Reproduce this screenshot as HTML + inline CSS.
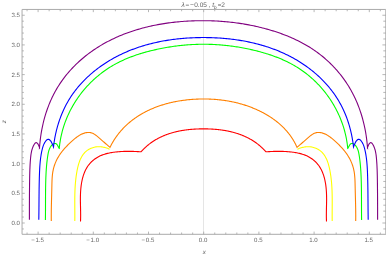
<!DOCTYPE html>
<html><head><meta charset="utf-8"><title>plot</title>
<style>
html,body{margin:0;padding:0;background:#fff;}
body{width:386px;height:256px;overflow:hidden;font-family:"Liberation Sans",sans-serif;}
svg{display:block;}
text{font-family:"Liberation Sans",sans-serif;fill:#646464;text-rendering:geometricPrecision;}
.t{filter:grayscale(1);}
.c{fill:none;stroke-width:1.10;stroke-linejoin:miter;stroke-miterlimit:6;stroke-linecap:butt;}
</style></head><body>
<svg width="386" height="256" viewBox="0 0 386 256">
<rect x="0" y="0" width="386" height="256" fill="#ffffff"/>
<line x1="203.50" y1="9.45" x2="203.50" y2="234.30" stroke="#dedede" stroke-width="0.8"/>
<path class="c" stroke="#ff0000" d="M80.50,221.50 L80.54,220.52 L80.57,219.55 L80.60,218.57 L80.62,217.60 L80.63,216.64 L80.64,215.67 L80.64,214.71 L80.63,213.75 L80.62,212.79 L80.61,211.83 L80.59,210.87 L80.58,209.92 L80.56,208.96 L80.54,208.01 L80.52,207.06 L80.50,206.11 L80.48,205.15 L80.46,204.20 L80.44,203.25 L80.42,202.30 L80.41,201.35 L80.40,200.39 L80.40,199.44 L80.40,198.48 L80.41,197.53 L80.42,196.57 L80.44,195.61 L80.47,194.65 L80.50,193.69 L80.54,192.72 L80.59,191.75 L80.66,190.78 L80.73,189.81 L80.81,188.83 L80.90,187.86 L81.01,186.88 L81.13,185.91 L81.26,184.93 L81.40,183.96 L81.56,182.99 L81.73,182.02 L81.92,181.06 L82.12,180.11 L82.34,179.15 L82.57,178.21 L82.83,177.27 L83.10,176.34 L83.38,175.42 L83.69,174.50 L84.02,173.60 L84.36,172.71 L84.73,171.83 L85.11,170.96 L85.52,170.10 L85.95,169.26 L86.40,168.43 L86.88,167.62 L87.38,166.83 L87.90,166.04 L88.44,165.28 L89.02,164.54 L89.61,163.81 L90.24,163.10 L90.88,162.42 L91.55,161.75 L92.25,161.10 L92.96,160.48 L93.70,159.87 L94.45,159.29 L95.22,158.73 L96.02,158.20 L96.82,157.68 L97.65,157.19 L98.49,156.73 L99.34,156.29 L100.20,155.87 L101.08,155.48 L101.97,155.12 L102.87,154.77 L103.77,154.45 L104.69,154.16 L105.62,153.88 L106.55,153.62 L107.49,153.39 L108.43,153.17 L109.38,152.97 L110.34,152.78 L111.30,152.61 L112.26,152.45 L113.22,152.31 L114.19,152.18 L115.16,152.06 L116.12,151.96 L117.09,151.86 L118.06,151.77 L119.02,151.69 L119.99,151.62 L120.95,151.56 L121.91,151.51 L122.88,151.46 L123.84,151.42 L124.80,151.39 L125.76,151.37 L126.73,151.36 L127.69,151.35 L128.65,151.34 L129.61,151.35 L130.57,151.36 L131.52,151.37 L132.48,151.40 L133.44,151.42 L134.40,151.45 L135.36,151.49 L136.31,151.53 L137.27,151.58 L138.23,151.63 L139.19,151.68 L140.14,151.74 L141.10,151.80 L141.41,151.44 L141.73,151.09 L142.05,150.74 L142.37,150.39 L142.69,150.05 L143.02,149.71 L143.34,149.37 L143.67,149.04 L144.00,148.71 L144.34,148.38 L144.67,148.06 L145.01,147.74 L145.35,147.42 L145.69,147.11 L146.03,146.80 L146.37,146.49 L146.72,146.19 L147.07,145.89 L147.42,145.59 L147.77,145.29 L148.12,145.00 L148.48,144.72 L148.83,144.43 L149.19,144.15 L149.55,143.87 L149.91,143.59 L150.28,143.32 L150.64,143.05 L151.01,142.79 L151.38,142.52 L151.75,142.26 L152.12,142.01 L152.50,141.75 L152.87,141.50 L153.25,141.25 L153.63,141.01 L154.01,140.76 L154.39,140.52 L154.77,140.29 L155.16,140.05 L155.54,139.82 L155.93,139.59 L156.32,139.37 L156.71,139.15 L157.10,138.93 L157.50,138.71 L157.89,138.50 L158.29,138.29 L158.69,138.08 L159.09,137.87 L159.49,137.67 L159.89,137.47 L160.30,137.27 L160.70,137.08 L161.11,136.89 L161.51,136.70 L161.92,136.51 L162.33,136.33 L162.75,136.14 L163.16,135.97 L163.57,135.79 L163.99,135.62 L164.40,135.45 L164.82,135.28 L165.24,135.11 L165.66,134.95 L166.08,134.79 L166.50,134.63 L166.93,134.47 L167.35,134.32 L167.78,134.17 L168.21,134.02 L168.63,133.87 L169.06,133.73 L169.49,133.59 L169.92,133.45 L170.36,133.32 L170.79,133.18 L171.22,133.05 L171.66,132.92 L172.10,132.79 L172.53,132.67 L172.97,132.55 L173.41,132.43 L173.85,132.31 L174.29,132.19 L174.73,132.08 L175.17,131.97 L175.62,131.86 L176.06,131.75 L176.51,131.65 L176.95,131.55 L177.40,131.45 L177.85,131.35 L178.30,131.25 L178.74,131.16 L179.19,131.07 L179.64,130.98 L180.10,130.89 L180.55,130.81 L181.00,130.72 L181.45,130.64 L181.91,130.56 L182.36,130.48 L182.82,130.41 L183.27,130.34 L183.73,130.26 L184.19,130.20 L184.64,130.13 L185.10,130.06 L185.56,130.00 L186.02,129.94 L186.48,129.88 L186.94,129.82 L187.40,129.76 L187.86,129.71 L188.33,129.66 L188.79,129.61 L189.25,129.56 L189.71,129.51 L190.18,129.46 L190.64,129.42 L191.10,129.38 L191.57,129.34 L192.03,129.30 L192.50,129.26 L192.97,129.23 L193.43,129.20 L193.90,129.16 L194.36,129.13 L194.83,129.11 L195.30,129.08 L195.77,129.05 L196.23,129.03 L196.70,129.01 L197.17,128.99 L197.64,128.97 L198.11,128.95 L198.57,128.94 L199.04,128.92 L199.51,128.91 L199.98,128.90 L200.45,128.89 L200.92,128.88 L201.39,128.87 L201.86,128.87 L202.33,128.86 L202.80,128.86 L203.27,128.86 L203.73,128.86 L204.20,128.86 L204.67,128.86 L205.14,128.87 L205.61,128.87 L206.08,128.88 L206.55,128.89 L207.02,128.90 L207.49,128.91 L207.96,128.92 L208.43,128.94 L208.89,128.95 L209.36,128.97 L209.83,128.99 L210.30,129.01 L210.77,129.03 L211.23,129.05 L211.70,129.08 L212.17,129.11 L212.64,129.13 L213.10,129.16 L213.57,129.20 L214.03,129.23 L214.50,129.26 L214.97,129.30 L215.43,129.34 L215.90,129.38 L216.36,129.42 L216.82,129.46 L217.29,129.51 L217.75,129.56 L218.21,129.61 L218.67,129.66 L219.14,129.71 L219.60,129.76 L220.06,129.82 L220.52,129.88 L220.98,129.94 L221.44,130.00 L221.90,130.06 L222.36,130.13 L222.81,130.20 L223.27,130.26 L223.73,130.34 L224.18,130.41 L224.64,130.48 L225.09,130.56 L225.55,130.64 L226.00,130.72 L226.45,130.81 L226.90,130.89 L227.36,130.98 L227.81,131.07 L228.26,131.16 L228.70,131.25 L229.15,131.35 L229.60,131.45 L230.05,131.55 L230.49,131.65 L230.94,131.75 L231.38,131.86 L231.83,131.97 L232.27,132.08 L232.71,132.19 L233.15,132.31 L233.59,132.43 L234.03,132.55 L234.47,132.67 L234.90,132.79 L235.34,132.92 L235.78,133.05 L236.21,133.18 L236.64,133.32 L237.08,133.45 L237.51,133.59 L237.94,133.73 L238.37,133.87 L238.79,134.02 L239.22,134.17 L239.65,134.32 L240.07,134.47 L240.50,134.63 L240.92,134.79 L241.34,134.95 L241.76,135.11 L242.18,135.28 L242.60,135.45 L243.01,135.62 L243.43,135.79 L243.84,135.97 L244.25,136.14 L244.67,136.33 L245.08,136.51 L245.49,136.70 L245.89,136.89 L246.30,137.08 L246.70,137.27 L247.11,137.47 L247.51,137.67 L247.91,137.87 L248.31,138.08 L248.71,138.29 L249.11,138.50 L249.50,138.71 L249.90,138.93 L250.29,139.15 L250.68,139.37 L251.07,139.59 L251.46,139.82 L251.84,140.05 L252.23,140.29 L252.61,140.52 L252.99,140.76 L253.37,141.01 L253.75,141.25 L254.13,141.50 L254.50,141.75 L254.88,142.01 L255.25,142.26 L255.62,142.52 L255.99,142.79 L256.36,143.05 L256.72,143.32 L257.09,143.59 L257.45,143.87 L257.81,144.15 L258.17,144.43 L258.52,144.72 L258.88,145.00 L259.23,145.29 L259.58,145.59 L259.93,145.89 L260.28,146.19 L260.63,146.49 L260.97,146.80 L261.31,147.11 L261.65,147.42 L261.99,147.74 L262.33,148.06 L262.66,148.38 L263.00,148.71 L263.33,149.04 L263.66,149.37 L263.98,149.71 L264.31,150.05 L264.63,150.39 L264.95,150.74 L265.27,151.09 L265.59,151.44 L265.90,151.80 L266.86,151.74 L267.81,151.68 L268.77,151.63 L269.73,151.58 L270.69,151.53 L271.64,151.49 L272.60,151.45 L273.56,151.42 L274.52,151.40 L275.48,151.37 L276.43,151.36 L277.39,151.35 L278.35,151.34 L279.31,151.35 L280.27,151.36 L281.24,151.37 L282.20,151.39 L283.16,151.42 L284.12,151.46 L285.09,151.51 L286.05,151.56 L287.01,151.62 L287.98,151.69 L288.94,151.77 L289.91,151.86 L290.88,151.96 L291.84,152.06 L292.81,152.18 L293.78,152.31 L294.74,152.45 L295.70,152.61 L296.66,152.78 L297.62,152.97 L298.57,153.17 L299.51,153.39 L300.45,153.62 L301.38,153.88 L302.31,154.16 L303.23,154.45 L304.13,154.77 L305.03,155.12 L305.92,155.48 L306.80,155.87 L307.66,156.29 L308.51,156.73 L309.35,157.19 L310.18,157.68 L310.98,158.20 L311.78,158.73 L312.55,159.29 L313.30,159.87 L314.04,160.48 L314.75,161.10 L315.45,161.75 L316.12,162.42 L316.76,163.10 L317.39,163.81 L317.98,164.54 L318.56,165.28 L319.10,166.04 L319.62,166.83 L320.12,167.62 L320.60,168.43 L321.05,169.26 L321.48,170.10 L321.89,170.96 L322.27,171.83 L322.64,172.71 L322.98,173.60 L323.31,174.50 L323.62,175.42 L323.90,176.34 L324.17,177.27 L324.43,178.21 L324.66,179.15 L324.88,180.11 L325.08,181.06 L325.27,182.02 L325.44,182.99 L325.60,183.96 L325.74,184.93 L325.87,185.91 L325.99,186.88 L326.10,187.86 L326.19,188.83 L326.27,189.81 L326.34,190.78 L326.41,191.75 L326.46,192.72 L326.50,193.69 L326.53,194.65 L326.56,195.61 L326.58,196.57 L326.59,197.53 L326.60,198.48 L326.60,199.44 L326.60,200.39 L326.59,201.35 L326.58,202.30 L326.56,203.25 L326.54,204.20 L326.52,205.15 L326.50,206.11 L326.48,207.06 L326.46,208.01 L326.44,208.96 L326.42,209.92 L326.41,210.87 L326.39,211.83 L326.38,212.79 L326.37,213.75 L326.36,214.71 L326.36,215.67 L326.37,216.64 L326.38,217.60 L326.40,218.57 L326.43,219.55 L326.46,220.52 L326.50,221.50"/>
<path class="c" stroke="#ffff00" d="M74.80,221.00 L74.81,220.17 L74.82,219.34 L74.83,218.52 L74.83,217.69 L74.83,216.87 L74.84,216.04 L74.84,215.22 L74.83,214.40 L74.83,213.58 L74.83,212.76 L74.83,211.94 L74.82,211.12 L74.82,210.30 L74.81,209.48 L74.81,208.67 L74.80,207.85 L74.80,207.04 L74.79,206.22 L74.79,205.41 L74.79,204.60 L74.78,203.78 L74.78,202.97 L74.78,202.16 L74.78,201.35 L74.78,200.54 L74.78,199.72 L74.79,198.91 L74.79,198.10 L74.80,197.29 L74.81,196.48 L74.83,195.67 L74.84,194.86 L74.86,194.05 L74.88,193.24 L74.90,192.43 L74.93,191.62 L74.95,190.81 L74.99,190.00 L75.02,189.19 L75.06,188.38 L75.10,187.57 L75.15,186.76 L75.20,185.95 L75.26,185.14 L75.31,184.33 L75.38,183.52 L75.45,182.70 L75.52,181.89 L75.60,181.08 L75.68,180.26 L75.77,179.45 L75.86,178.63 L75.96,177.82 L76.06,177.00 L76.17,176.18 L76.29,175.36 L76.41,174.55 L76.54,173.73 L76.67,172.91 L76.81,172.09 L76.96,171.26 L77.12,170.44 L77.28,169.62 L77.45,168.80 L77.63,167.98 L77.82,167.16 L78.01,166.34 L78.22,165.53 L78.44,164.73 L78.68,163.93 L78.92,163.14 L79.18,162.36 L79.46,161.58 L79.75,160.82 L80.05,160.06 L80.37,159.32 L80.71,158.59 L81.07,157.88 L81.44,157.17 L81.83,156.48 L82.25,155.81 L82.68,155.16 L83.13,154.52 L83.61,153.90 L84.11,153.30 L84.63,152.72 L85.17,152.16 L85.74,151.63 L86.34,151.11 L86.96,150.62 L87.60,150.16 L88.27,149.72 L88.97,149.31 L89.69,148.92 L90.42,148.56 L91.18,148.23 L91.95,147.93 L92.74,147.67 L93.53,147.43 L94.34,147.22 L95.16,147.05 L95.98,146.91 L96.81,146.80 L97.64,146.73 L98.47,146.70 L99.30,146.70 L100.13,146.74 L100.96,146.81 L101.78,146.91 L102.60,147.04 L103.41,147.20 L104.22,147.38 L105.01,147.58 L105.80,147.81 L106.59,148.06 L107.36,148.32 L108.12,148.60 L108.86,148.90 L109.60,149.20"/>
<path class="c" stroke="#ffff00" d="M297.40,149.20 L298.14,148.90 L298.88,148.60 L299.64,148.32 L300.41,148.06 L301.20,147.81 L301.99,147.58 L302.78,147.38 L303.59,147.20 L304.40,147.04 L305.22,146.91 L306.04,146.81 L306.87,146.74 L307.70,146.70 L308.53,146.70 L309.36,146.73 L310.19,146.80 L311.02,146.91 L311.84,147.05 L312.66,147.22 L313.47,147.43 L314.26,147.67 L315.05,147.93 L315.82,148.23 L316.58,148.56 L317.31,148.92 L318.03,149.31 L318.73,149.72 L319.40,150.16 L320.04,150.62 L320.66,151.11 L321.26,151.63 L321.83,152.16 L322.37,152.72 L322.89,153.30 L323.39,153.90 L323.87,154.52 L324.32,155.16 L324.75,155.81 L325.17,156.48 L325.56,157.17 L325.93,157.88 L326.29,158.59 L326.63,159.32 L326.95,160.06 L327.25,160.82 L327.54,161.58 L327.82,162.36 L328.08,163.14 L328.32,163.93 L328.56,164.73 L328.78,165.53 L328.99,166.34 L329.18,167.16 L329.37,167.98 L329.55,168.80 L329.72,169.62 L329.88,170.44 L330.04,171.26 L330.19,172.09 L330.33,172.91 L330.46,173.73 L330.59,174.55 L330.71,175.36 L330.83,176.18 L330.94,177.00 L331.04,177.82 L331.14,178.63 L331.23,179.45 L331.32,180.26 L331.40,181.08 L331.48,181.89 L331.55,182.70 L331.62,183.52 L331.69,184.33 L331.74,185.14 L331.80,185.95 L331.85,186.76 L331.90,187.57 L331.94,188.38 L331.98,189.19 L332.01,190.00 L332.05,190.81 L332.07,191.62 L332.10,192.43 L332.12,193.24 L332.14,194.05 L332.16,194.86 L332.17,195.67 L332.19,196.48 L332.20,197.29 L332.21,198.10 L332.21,198.91 L332.22,199.72 L332.22,200.54 L332.22,201.35 L332.22,202.16 L332.22,202.97 L332.22,203.78 L332.21,204.60 L332.21,205.41 L332.21,206.22 L332.20,207.04 L332.20,207.85 L332.19,208.67 L332.19,209.48 L332.18,210.30 L332.18,211.12 L332.17,211.94 L332.17,212.76 L332.17,213.58 L332.17,214.40 L332.16,215.22 L332.16,216.04 L332.17,216.87 L332.17,217.69 L332.17,218.52 L332.18,219.34 L332.19,220.17 L332.20,221.00"/>
<path class="c" stroke="#ff8000" d="M51.30,221.00 L51.29,219.89 L51.28,218.77 L51.27,217.66 L51.27,216.55 L51.27,215.44 L51.27,214.33 L51.28,213.22 L51.29,212.11 L51.30,211.00 L51.31,209.89 L51.33,208.78 L51.35,207.67 L51.37,206.57 L51.39,205.46 L51.41,204.35 L51.44,203.24 L51.47,202.14 L51.49,201.03 L51.52,199.92 L51.55,198.81 L51.58,197.71 L51.61,196.60 L51.64,195.49 L51.67,194.38 L51.69,193.27 L51.72,192.16 L51.75,191.05 L51.78,189.94 L51.80,188.82 L51.83,187.71 L51.85,186.60 L51.88,185.48 L51.90,184.37 L51.93,183.26 L51.96,182.14 L52.00,181.03 L52.04,179.92 L52.10,178.81 L52.17,177.70 L52.26,176.59 L52.36,175.49 L52.48,174.39 L52.62,173.29 L52.78,172.20 L52.96,171.11 L53.18,170.03 L53.41,168.95 L53.68,167.88 L53.98,166.82 L54.31,165.76 L54.67,164.71 L55.06,163.66 L55.48,162.63 L55.92,161.61 L56.38,160.59 L56.88,159.59 L57.39,158.60 L57.93,157.63 L58.49,156.67 L59.07,155.72 L59.67,154.79 L60.29,153.88 L60.93,152.98 L61.58,152.10 L62.25,151.24 L62.94,150.38 L63.64,149.54 L64.36,148.72 L65.09,147.90 L65.84,147.09 L66.60,146.29 L67.37,145.50 L68.15,144.72 L68.95,143.94 L69.76,143.17 L70.57,142.40 L71.40,141.63 L72.24,140.87 L73.09,140.12 L73.94,139.37 L74.82,138.65 L75.70,137.94 L76.60,137.26 L77.51,136.60 L78.44,135.98 L79.38,135.39 L80.34,134.84 L81.32,134.33 L82.31,133.87 L83.33,133.47 L84.36,133.12 L85.41,132.83 L86.47,132.61 L87.54,132.48 L88.59,132.44 L89.64,132.49 L90.68,132.66 L91.69,132.94 L92.68,133.32 L93.64,133.81 L94.59,134.37 L95.52,135.00 L96.43,135.68 L97.33,136.39 L98.21,137.13 L99.08,137.87 L99.93,138.61 L100.78,139.35 L101.62,140.09 L102.46,140.82 L103.29,141.55 L104.12,142.28 L104.94,143.01 L105.77,143.73 L106.61,144.45 L107.44,145.17 L108.29,145.88 L109.14,146.59 L110.00,147.30 L110.35,146.60 L110.70,145.90 L111.06,145.21 L111.43,144.53 L111.80,143.85 L112.18,143.18 L112.56,142.51 L112.95,141.85 L113.34,141.20 L113.74,140.55 L114.14,139.91 L114.55,139.27 L114.97,138.64 L115.39,138.01 L115.82,137.39 L116.25,136.77 L116.68,136.16 L117.12,135.56 L117.57,134.96 L118.02,134.37 L118.48,133.78 L118.94,133.20 L119.41,132.62 L119.88,132.05 L120.35,131.49 L120.83,130.93 L121.32,130.38 L121.81,129.83 L122.31,129.28 L122.81,128.75 L123.31,128.21 L123.82,127.69 L124.33,127.16 L124.85,126.65 L125.37,126.14 L125.90,125.63 L126.43,125.13 L126.97,124.64 L127.51,124.15 L128.05,123.66 L128.60,123.18 L129.15,122.71 L129.71,122.24 L130.27,121.78 L130.83,121.32 L131.40,120.86 L131.97,120.42 L132.55,119.97 L133.13,119.54 L133.71,119.10 L134.30,118.68 L134.89,118.25 L135.49,117.84 L136.08,117.42 L136.69,117.02 L137.29,116.61 L137.90,116.22 L138.51,115.82 L139.13,115.44 L139.75,115.05 L140.37,114.68 L141.00,114.30 L141.63,113.94 L142.26,113.57 L142.89,113.21 L143.53,112.86 L144.18,112.51 L144.82,112.17 L145.47,111.83 L146.12,111.50 L146.77,111.17 L147.43,110.84 L148.09,110.53 L148.75,110.21 L149.42,109.90 L150.08,109.60 L150.75,109.29 L151.43,109.00 L152.10,108.71 L152.78,108.42 L153.46,108.14 L154.14,107.86 L154.83,107.59 L155.52,107.32 L156.21,107.06 L156.90,106.80 L157.59,106.54 L158.29,106.29 L158.99,106.05 L159.69,105.81 L160.39,105.57 L161.10,105.34 L161.81,105.11 L162.52,104.89 L163.23,104.67 L163.94,104.45 L164.65,104.24 L165.37,104.04 L166.09,103.84 L166.81,103.64 L167.53,103.45 L168.25,103.26 L168.98,103.08 L169.70,102.90 L170.43,102.72 L171.16,102.55 L171.89,102.38 L172.62,102.22 L173.36,102.06 L174.09,101.91 L174.83,101.76 L175.56,101.61 L176.30,101.47 L177.04,101.33 L177.78,101.20 L178.52,101.07 L179.26,100.94 L180.01,100.82 L180.75,100.70 L181.50,100.59 L182.24,100.48 L182.99,100.37 L183.74,100.27 L184.48,100.18 L185.23,100.08 L185.98,99.99 L186.73,99.91 L187.48,99.82 L188.23,99.75 L188.98,99.67 L189.73,99.60 L190.49,99.54 L191.24,99.47 L191.99,99.42 L192.74,99.36 L193.50,99.31 L194.25,99.26 L195.00,99.22 L195.75,99.18 L196.51,99.14 L197.26,99.11 L198.01,99.08 L198.77,99.06 L199.52,99.04 L200.27,99.02 L201.02,99.00 L201.78,98.99 L202.53,98.99 L203.28,98.98 L204.03,98.98 L204.78,98.99 L205.53,98.99 L206.28,99.01 L207.03,99.02 L207.78,99.04 L208.52,99.06 L209.27,99.09 L210.02,99.12 L210.76,99.15 L211.51,99.18 L212.25,99.23 L213.00,99.27 L213.74,99.32 L214.49,99.37 L215.23,99.42 L215.97,99.48 L216.71,99.55 L217.45,99.61 L218.19,99.68 L218.93,99.76 L219.67,99.84 L220.41,99.92 L221.14,100.00 L221.88,100.09 L222.61,100.19 L223.35,100.29 L224.08,100.39 L224.81,100.49 L225.54,100.60 L226.28,100.72 L227.00,100.83 L227.73,100.96 L228.46,101.08 L229.19,101.21 L229.91,101.35 L230.64,101.48 L231.36,101.63 L232.09,101.77 L232.81,101.92 L233.53,102.08 L234.25,102.24 L234.97,102.40 L235.68,102.57 L236.40,102.74 L237.12,102.91 L237.83,103.09 L238.54,103.28 L239.26,103.47 L239.97,103.66 L240.68,103.86 L241.38,104.06 L242.09,104.26 L242.80,104.47 L243.50,104.69 L244.20,104.90 L244.91,105.13 L245.61,105.36 L246.30,105.59 L247.00,105.82 L247.70,106.06 L248.39,106.31 L249.09,106.56 L249.78,106.81 L250.47,107.07 L251.16,107.33 L251.85,107.60 L252.53,107.87 L253.22,108.15 L253.90,108.43 L254.58,108.72 L255.26,109.01 L255.94,109.30 L256.62,109.60 L257.29,109.91 L257.97,110.22 L258.64,110.53 L259.31,110.85 L259.98,111.17 L260.64,111.50 L261.30,111.84 L261.97,112.17 L262.62,112.52 L263.28,112.86 L263.93,113.22 L264.58,113.57 L265.23,113.93 L265.88,114.30 L266.52,114.67 L267.16,115.05 L267.79,115.43 L268.43,115.82 L269.06,116.21 L269.68,116.60 L270.31,117.01 L270.93,117.41 L271.54,117.82 L272.15,118.24 L272.76,118.66 L273.37,119.09 L273.97,119.52 L274.57,119.96 L275.16,120.40 L275.75,120.85 L276.33,121.30 L276.91,121.76 L277.49,122.22 L278.06,122.69 L278.63,123.16 L279.19,123.64 L279.75,124.12 L280.30,124.61 L280.85,125.11 L281.40,125.61 L281.93,126.11 L282.47,126.62 L283.00,127.14 L283.52,127.66 L284.04,128.19 L284.55,128.72 L285.06,129.26 L285.56,129.80 L286.05,130.35 L286.54,130.90 L287.03,131.46 L287.51,132.03 L287.98,132.60 L288.44,133.18 L288.90,133.76 L289.36,134.35 L289.80,134.94 L290.25,135.54 L290.68,136.14 L291.11,136.75 L291.53,137.37 L291.94,137.99 L292.35,138.62 L292.75,139.25 L293.15,139.89 L293.53,140.53 L293.91,141.18 L294.29,141.84 L294.65,142.50 L295.01,143.17 L295.36,143.84 L295.70,144.52 L296.04,145.21 L296.37,145.90 L296.69,146.60 L297.00,147.30 L297.86,146.59 L298.71,145.88 L299.56,145.17 L300.39,144.45 L301.23,143.73 L302.06,143.01 L302.88,142.28 L303.71,141.55 L304.54,140.82 L305.38,140.09 L306.22,139.35 L307.07,138.61 L307.92,137.87 L308.79,137.13 L309.67,136.39 L310.57,135.68 L311.48,135.00 L312.41,134.37 L313.36,133.81 L314.32,133.32 L315.31,132.94 L316.32,132.66 L317.36,132.49 L318.41,132.44 L319.46,132.48 L320.53,132.61 L321.59,132.83 L322.64,133.12 L323.67,133.47 L324.69,133.87 L325.68,134.33 L326.66,134.84 L327.62,135.39 L328.56,135.98 L329.49,136.60 L330.40,137.26 L331.30,137.94 L332.18,138.65 L333.06,139.37 L333.91,140.12 L334.76,140.87 L335.60,141.63 L336.43,142.40 L337.24,143.17 L338.05,143.94 L338.85,144.72 L339.63,145.50 L340.40,146.29 L341.16,147.09 L341.91,147.90 L342.64,148.72 L343.36,149.54 L344.06,150.38 L344.75,151.24 L345.42,152.10 L346.07,152.98 L346.71,153.88 L347.33,154.79 L347.93,155.72 L348.51,156.67 L349.07,157.63 L349.61,158.60 L350.12,159.59 L350.62,160.59 L351.08,161.61 L351.52,162.63 L351.94,163.66 L352.33,164.71 L352.69,165.76 L353.02,166.82 L353.32,167.88 L353.59,168.95 L353.82,170.03 L354.04,171.11 L354.22,172.20 L354.38,173.29 L354.52,174.39 L354.64,175.49 L354.74,176.59 L354.83,177.70 L354.90,178.81 L354.96,179.92 L355.00,181.03 L355.04,182.14 L355.07,183.26 L355.10,184.37 L355.12,185.48 L355.15,186.60 L355.17,187.71 L355.20,188.82 L355.22,189.94 L355.25,191.05 L355.28,192.16 L355.31,193.27 L355.33,194.38 L355.36,195.49 L355.39,196.60 L355.42,197.71 L355.45,198.81 L355.48,199.92 L355.51,201.03 L355.53,202.14 L355.56,203.24 L355.59,204.35 L355.61,205.46 L355.63,206.57 L355.65,207.67 L355.67,208.78 L355.69,209.89 L355.70,211.00 L355.71,212.11 L355.72,213.22 L355.73,214.33 L355.73,215.44 L355.73,216.55 L355.73,217.66 L355.72,218.77 L355.71,219.89 L355.70,221.00"/>
<path class="c" stroke="#00ff00" d="M45.40,220.00 L45.41,219.28 L45.42,218.55 L45.43,217.83 L45.44,217.11 L45.45,216.38 L45.45,215.66 L45.46,214.93 L45.47,214.21 L45.47,213.48 L45.48,212.75 L45.48,212.03 L45.48,211.30 L45.49,210.57 L45.49,209.84 L45.49,209.12 L45.49,208.39 L45.50,207.66 L45.50,206.93 L45.50,206.20 L45.50,205.47 L45.50,204.74 L45.50,204.01 L45.51,203.28 L45.51,202.55 L45.51,201.82 L45.51,201.09 L45.51,200.36 L45.51,199.64 L45.52,198.91 L45.52,198.18 L45.52,197.45 L45.52,196.72 L45.53,195.99 L45.53,195.26 L45.54,194.53 L45.54,193.80 L45.55,193.07 L45.55,192.34 L45.56,191.61 L45.57,190.88 L45.57,190.15 L45.58,189.42 L45.59,188.70 L45.60,187.97 L45.61,187.24 L45.63,186.51 L45.64,185.79 L45.65,185.06 L45.67,184.33 L45.68,183.61 L45.70,182.88 L45.72,182.15 L45.74,181.43 L45.76,180.71 L45.78,179.98 L45.80,179.26 L45.83,178.53 L45.85,177.81 L45.88,177.09 L45.91,176.37 L45.94,175.65 L45.97,174.93 L46.01,174.21 L46.04,173.49 L46.08,172.77 L46.12,172.05 L46.16,171.33 L46.21,170.60 L46.25,169.88 L46.30,169.16 L46.35,168.44 L46.41,167.72 L46.46,167.00 L46.52,166.28 L46.59,165.55 L46.65,164.83 L46.72,164.10 L46.79,163.38 L46.87,162.65 L46.95,161.92 L47.03,161.19 L47.11,160.46 L47.20,159.73 L47.30,159.00 L47.39,158.26 L47.50,157.53 L47.60,156.79 L47.71,156.05 L47.83,155.31 L47.95,154.57 L48.08,153.84 L48.23,153.10 L48.38,152.38 L48.56,151.66 L48.75,150.96 L48.96,150.26 L49.19,149.59 L49.45,148.92 L49.73,148.28 L50.04,147.65 L50.38,147.05 L50.76,146.47 L51.16,145.92 L51.61,145.39 L52.09,144.89 L52.61,144.43 L53.16,144.03 L53.74,143.72 L54.33,143.51 L54.94,143.44 L55.55,143.53 L56.15,143.79 L56.75,144.26 L57.33,144.96 L57.89,145.90 L58.39,146.93 L58.81,147.85 L59.11,148.44 L59.25,148.50 L59.38,147.17 L59.52,145.83 L59.68,144.51 L59.86,143.18 L60.06,141.87 L60.27,140.55 L60.50,139.24 L60.75,137.94 L61.01,136.63 L61.29,135.34 L61.59,134.05 L61.90,132.76 L62.23,131.48 L62.58,130.20 L62.94,128.93 L63.32,127.67 L63.71,126.41 L64.12,125.16 L64.54,123.91 L64.98,122.67 L65.44,121.43 L65.91,120.20 L66.40,118.98 L66.90,117.76 L67.41,116.56 L67.94,115.35 L68.49,114.16 L69.05,112.97 L69.62,111.79 L70.21,110.62 L70.81,109.45 L71.43,108.29 L72.06,107.14 L72.70,106.00 L73.36,104.86 L74.03,103.74 L74.71,102.62 L75.41,101.51 L76.12,100.41 L76.85,99.32 L77.58,98.23 L78.33,97.16 L79.09,96.09 L79.87,95.04 L80.65,93.99 L81.45,92.95 L82.26,91.92 L83.09,90.91 L83.92,89.90 L84.77,88.90 L85.63,87.91 L86.50,86.93 L87.38,85.97 L88.27,85.01 L89.17,84.06 L90.09,83.13 L91.01,82.20 L91.95,81.29 L92.90,80.39 L93.85,79.49 L94.82,78.61 L95.80,77.75 L96.79,76.89 L97.79,76.05 L98.80,75.21 L99.81,74.39 L100.84,73.58 L101.88,72.79 L102.93,72.00 L103.98,71.23 L105.05,70.47 L106.12,69.73 L107.21,69.00 L108.30,68.28 L109.40,67.57 L110.51,66.88 L111.63,66.20 L112.75,65.53 L113.89,64.88 L115.03,64.24 L116.18,63.62 L117.34,63.00 L118.50,62.41 L119.67,61.82 L120.85,61.25 L122.04,60.68 L123.23,60.13 L124.43,59.60 L125.63,59.07 L126.85,58.56 L128.06,58.06 L129.28,57.57 L130.51,57.09 L131.74,56.62 L132.98,56.16 L134.22,55.72 L135.47,55.28 L136.72,54.85 L137.98,54.44 L139.24,54.03 L140.50,53.64 L141.77,53.25 L143.04,52.88 L144.31,52.51 L145.59,52.15 L146.87,51.80 L148.15,51.46 L149.43,51.13 L150.72,50.81 L152.00,50.49 L153.29,50.19 L154.58,49.89 L155.88,49.60 L157.17,49.31 L158.46,49.04 L159.76,48.77 L161.06,48.51 L162.35,48.26 L163.65,48.01 L164.95,47.77 L166.25,47.54 L167.55,47.32 L168.85,47.10 L170.15,46.89 L171.45,46.69 L172.76,46.50 L174.06,46.32 L175.36,46.14 L176.67,45.97 L177.97,45.81 L179.28,45.66 L180.59,45.51 L181.89,45.37 L183.20,45.24 L184.51,45.12 L185.82,45.01 L187.12,44.90 L188.43,44.80 L189.74,44.71 L191.05,44.63 L192.36,44.56 L193.67,44.49 L194.98,44.43 L196.29,44.38 L197.60,44.34 L198.91,44.31 L200.22,44.28 L201.54,44.26 L202.85,44.25 L204.16,44.25 L205.47,44.26 L206.78,44.28 L208.09,44.30 L209.40,44.33 L210.71,44.37 L212.02,44.42 L213.33,44.48 L214.65,44.54 L215.96,44.61 L217.27,44.70 L218.57,44.78 L219.88,44.88 L221.19,44.99 L222.50,45.10 L223.81,45.22 L225.12,45.35 L226.42,45.49 L227.73,45.63 L229.04,45.79 L230.34,45.95 L231.65,46.12 L232.95,46.29 L234.25,46.48 L235.56,46.67 L236.86,46.87 L238.16,47.08 L239.46,47.30 L240.76,47.52 L242.06,47.75 L243.35,47.99 L244.65,48.24 L245.95,48.50 L247.24,48.76 L248.53,49.03 L249.83,49.31 L251.12,49.60 L252.41,49.89 L253.70,50.19 L254.98,50.50 L256.27,50.82 L257.55,51.15 L258.84,51.48 L260.12,51.82 L261.39,52.18 L262.67,52.54 L263.94,52.91 L265.21,53.28 L266.48,53.67 L267.74,54.07 L269.00,54.47 L270.26,54.89 L271.51,55.32 L272.75,55.75 L274.00,56.20 L275.24,56.66 L276.47,57.13 L277.70,57.60 L278.92,58.09 L280.14,58.59 L281.35,59.11 L282.56,59.63 L283.76,60.17 L284.95,60.71 L286.14,61.27 L287.32,61.84 L288.49,62.43 L289.66,63.02 L290.82,63.63 L291.97,64.25 L293.12,64.89 L294.25,65.54 L295.38,66.20 L296.50,66.87 L297.61,67.56 L298.71,68.26 L299.81,68.98 L300.89,69.71 L301.97,70.45 L303.03,71.20 L304.09,71.97 L305.14,72.76 L306.18,73.55 L307.21,74.36 L308.22,75.18 L309.23,76.01 L310.23,76.85 L311.22,77.71 L312.20,78.58 L313.17,79.46 L314.12,80.35 L315.07,81.25 L316.00,82.16 L316.93,83.09 L317.84,84.03 L318.75,84.97 L319.64,85.93 L320.52,86.90 L321.39,87.88 L322.25,88.87 L323.09,89.87 L323.92,90.88 L324.75,91.90 L325.56,92.93 L326.35,93.97 L327.14,95.02 L327.91,96.08 L328.67,97.15 L329.42,98.22 L330.16,99.31 L330.88,100.41 L331.59,101.51 L332.28,102.62 L332.97,103.74 L333.64,104.87 L334.29,106.01 L334.93,107.15 L335.56,108.31 L336.18,109.47 L336.78,110.63 L337.37,111.81 L337.94,112.99 L338.50,114.18 L339.04,115.38 L339.57,116.58 L340.09,117.79 L340.59,119.01 L341.07,120.23 L341.54,121.46 L342.00,122.70 L342.44,123.94 L342.86,125.19 L343.27,126.44 L343.67,127.70 L344.04,128.97 L344.41,130.24 L344.75,131.51 L345.08,132.79 L345.40,134.08 L345.69,135.37 L345.98,136.66 L346.24,137.96 L346.49,139.27 L346.72,140.57 L346.93,141.89 L347.13,143.20 L347.31,144.52 L347.48,145.84 L347.62,147.17 L347.75,148.50 L347.89,148.44 L348.19,147.85 L348.61,146.93 L349.11,145.90 L349.67,144.96 L350.25,144.26 L350.85,143.79 L351.45,143.53 L352.06,143.44 L352.67,143.51 L353.26,143.72 L353.84,144.03 L354.39,144.43 L354.91,144.89 L355.39,145.39 L355.84,145.92 L356.24,146.47 L356.62,147.05 L356.96,147.65 L357.27,148.28 L357.55,148.92 L357.81,149.59 L358.04,150.26 L358.25,150.96 L358.44,151.66 L358.62,152.38 L358.77,153.10 L358.92,153.84 L359.05,154.57 L359.17,155.31 L359.29,156.05 L359.40,156.79 L359.50,157.53 L359.61,158.26 L359.70,159.00 L359.80,159.73 L359.89,160.46 L359.97,161.19 L360.05,161.92 L360.13,162.65 L360.21,163.38 L360.28,164.10 L360.35,164.83 L360.41,165.55 L360.48,166.28 L360.54,167.00 L360.59,167.72 L360.65,168.44 L360.70,169.16 L360.75,169.88 L360.79,170.60 L360.84,171.33 L360.88,172.05 L360.92,172.77 L360.96,173.49 L360.99,174.21 L361.03,174.93 L361.06,175.65 L361.09,176.37 L361.12,177.09 L361.15,177.81 L361.17,178.53 L361.20,179.26 L361.22,179.98 L361.24,180.71 L361.26,181.43 L361.28,182.15 L361.30,182.88 L361.32,183.61 L361.33,184.33 L361.35,185.06 L361.36,185.79 L361.37,186.51 L361.39,187.24 L361.40,187.97 L361.41,188.70 L361.42,189.42 L361.43,190.15 L361.43,190.88 L361.44,191.61 L361.45,192.34 L361.45,193.07 L361.46,193.80 L361.46,194.53 L361.47,195.26 L361.47,195.99 L361.48,196.72 L361.48,197.45 L361.48,198.18 L361.48,198.91 L361.49,199.64 L361.49,200.36 L361.49,201.09 L361.49,201.82 L361.49,202.55 L361.49,203.28 L361.50,204.01 L361.50,204.74 L361.50,205.47 L361.50,206.20 L361.50,206.93 L361.50,207.66 L361.51,208.39 L361.51,209.12 L361.51,209.84 L361.51,210.57 L361.52,211.30 L361.52,212.03 L361.52,212.75 L361.53,213.48 L361.53,214.21 L361.54,214.93 L361.55,215.66 L361.55,216.38 L361.56,217.11 L361.57,217.83 L361.58,218.55 L361.59,219.28 L361.60,220.00"/>
<path class="c" stroke="#0000ff" d="M38.80,219.80 L38.81,219.02 L38.83,218.23 L38.84,217.45 L38.85,216.67 L38.86,215.88 L38.87,215.10 L38.88,214.32 L38.89,213.53 L38.90,212.75 L38.91,211.97 L38.92,211.18 L38.93,210.40 L38.93,209.62 L38.94,208.84 L38.95,208.05 L38.95,207.27 L38.96,206.49 L38.97,205.71 L38.97,204.93 L38.98,204.14 L38.98,203.36 L38.99,202.58 L39.00,201.80 L39.00,201.02 L39.01,200.23 L39.01,199.45 L39.02,198.67 L39.02,197.89 L39.03,197.11 L39.04,196.33 L39.04,195.54 L39.05,194.76 L39.06,193.98 L39.07,193.20 L39.07,192.42 L39.08,191.63 L39.09,190.85 L39.10,190.07 L39.11,189.29 L39.12,188.51 L39.13,187.72 L39.15,186.94 L39.16,186.16 L39.17,185.38 L39.19,184.60 L39.20,183.81 L39.22,183.03 L39.23,182.25 L39.25,181.47 L39.27,180.68 L39.29,179.90 L39.31,179.12 L39.33,178.33 L39.35,177.55 L39.37,176.77 L39.40,175.98 L39.42,175.20 L39.45,174.42 L39.48,173.63 L39.51,172.85 L39.54,172.07 L39.57,171.28 L39.61,170.50 L39.64,169.71 L39.68,168.93 L39.73,168.15 L39.77,167.36 L39.82,166.58 L39.87,165.80 L39.93,165.02 L39.99,164.24 L40.05,163.46 L40.12,162.68 L40.19,161.90 L40.27,161.12 L40.35,160.35 L40.44,159.57 L40.53,158.80 L40.63,158.02 L40.73,157.25 L40.84,156.48 L40.96,155.71 L41.08,154.94 L41.21,154.18 L41.35,153.41 L41.49,152.65 L41.64,151.89 L41.80,151.13 L41.97,150.37 L42.15,149.61 L42.33,148.86 L42.53,148.11 L42.74,147.36 L42.97,146.61 L43.22,145.86 L43.51,145.12 L43.82,144.37 L44.16,143.63 L44.54,142.89 L44.96,142.18 L45.41,141.49 L45.89,140.84 L46.39,140.26 L46.92,139.78 L47.47,139.44 L48.03,139.29 L48.61,139.35 L49.19,139.60 L49.76,140.02 L50.31,140.56 L50.82,141.20 L51.29,141.90 L51.70,142.64 L52.06,143.40 L52.39,144.16 L52.69,144.92 L52.96,145.65 L53.23,146.35 L53.50,147.00 L53.66,145.63 L53.83,144.26 L54.02,142.90 L54.23,141.53 L54.44,140.17 L54.68,138.81 L54.92,137.45 L55.19,136.10 L55.46,134.75 L55.75,133.40 L56.06,132.06 L56.38,130.72 L56.71,129.38 L57.06,128.05 L57.43,126.72 L57.81,125.40 L58.20,124.08 L58.61,122.76 L59.04,121.46 L59.48,120.15 L59.94,118.86 L60.41,117.57 L60.89,116.28 L61.40,115.01 L61.91,113.74 L62.45,112.47 L63.00,111.22 L63.56,109.97 L64.14,108.73 L64.74,107.50 L65.35,106.27 L65.98,105.06 L66.62,103.85 L67.28,102.65 L67.96,101.46 L68.65,100.28 L69.36,99.11 L70.08,97.95 L70.82,96.81 L71.58,95.67 L72.35,94.54 L73.14,93.42 L73.94,92.31 L74.76,91.21 L75.59,90.12 L76.44,89.05 L77.30,87.98 L78.17,86.93 L79.06,85.88 L79.96,84.85 L80.88,83.82 L81.81,82.81 L82.75,81.81 L83.70,80.82 L84.66,79.84 L85.64,78.87 L86.63,77.92 L87.63,76.97 L88.64,76.04 L89.66,75.12 L90.69,74.21 L91.73,73.31 L92.78,72.42 L93.84,71.54 L94.91,70.68 L95.98,69.83 L97.07,68.99 L98.17,68.16 L99.27,67.34 L100.38,66.54 L101.50,65.75 L102.62,64.97 L103.76,64.20 L104.90,63.44 L106.04,62.70 L107.20,61.97 L108.36,61.25 L109.52,60.54 L110.69,59.85 L111.87,59.17 L113.05,58.50 L114.24,57.84 L115.44,57.20 L116.64,56.56 L117.84,55.94 L119.05,55.33 L120.27,54.73 L121.49,54.14 L122.72,53.57 L123.95,53.00 L125.19,52.45 L126.43,51.91 L127.68,51.38 L128.93,50.86 L130.19,50.35 L131.45,49.85 L132.72,49.37 L133.99,48.89 L135.26,48.43 L136.54,47.97 L137.83,47.53 L139.12,47.10 L140.41,46.68 L141.70,46.27 L143.00,45.87 L144.31,45.47 L145.61,45.09 L146.93,44.73 L148.24,44.37 L149.56,44.02 L150.88,43.68 L152.20,43.35 L153.53,43.03 L154.86,42.72 L156.20,42.42 L157.54,42.13 L158.88,41.85 L160.22,41.58 L161.56,41.31 L162.91,41.06 L164.26,40.82 L165.62,40.59 L166.97,40.36 L168.33,40.15 L169.69,39.94 L171.05,39.75 L172.42,39.56 L173.78,39.38 L175.15,39.21 L176.52,39.05 L177.89,38.89 L179.27,38.75 L180.64,38.62 L182.02,38.49 L183.40,38.37 L184.78,38.26 L186.16,38.16 L187.54,38.06 L188.92,37.98 L190.30,37.90 L191.69,37.83 L193.07,37.77 L194.46,37.72 L195.85,37.67 L197.23,37.64 L198.62,37.61 L200.01,37.58 L201.40,37.57 L202.78,37.56 L204.17,37.56 L205.56,37.57 L206.95,37.58 L208.34,37.61 L209.73,37.64 L211.11,37.67 L212.50,37.72 L213.89,37.77 L215.28,37.84 L216.66,37.90 L218.05,37.98 L219.43,38.07 L220.81,38.16 L222.20,38.26 L223.58,38.37 L224.96,38.49 L226.33,38.62 L227.71,38.76 L229.09,38.90 L230.46,39.05 L231.83,39.21 L233.20,39.38 L234.57,39.56 L235.94,39.75 L237.30,39.95 L238.67,40.15 L240.03,40.37 L241.38,40.59 L242.74,40.83 L244.09,41.07 L245.44,41.32 L246.79,41.58 L248.14,41.85 L249.48,42.13 L250.82,42.42 L252.16,42.72 L253.49,43.03 L254.82,43.35 L256.15,43.68 L257.47,44.02 L258.79,44.37 L260.11,44.73 L261.42,45.10 L262.73,45.48 L264.03,45.87 L265.34,46.27 L266.63,46.68 L267.93,47.10 L269.22,47.54 L270.50,47.98 L271.78,48.43 L273.06,48.90 L274.33,49.37 L275.59,49.86 L276.86,50.35 L278.11,50.86 L279.37,51.38 L280.61,51.91 L281.86,52.45 L283.09,53.00 L284.33,53.57 L285.55,54.14 L286.77,54.73 L287.99,55.33 L289.20,55.94 L290.40,56.56 L291.60,57.19 L292.79,57.84 L293.98,58.49 L295.16,59.16 L296.33,59.84 L297.50,60.54 L298.66,61.24 L299.82,61.96 L300.97,62.69 L302.11,63.43 L303.25,64.19 L304.37,64.95 L305.50,65.73 L306.61,66.52 L307.72,67.33 L308.82,68.14 L309.91,68.97 L310.99,69.81 L312.07,70.67 L313.13,71.53 L314.19,72.41 L315.24,73.30 L316.27,74.20 L317.30,75.11 L318.32,76.03 L319.33,76.97 L320.33,77.91 L321.31,78.87 L322.29,79.84 L323.25,80.82 L324.20,81.81 L325.14,82.81 L326.07,83.83 L326.98,84.85 L327.89,85.89 L328.78,86.93 L329.65,87.99 L330.52,89.06 L331.37,90.13 L332.20,91.22 L333.02,92.32 L333.83,93.43 L334.62,94.55 L335.39,95.68 L336.16,96.82 L336.90,97.96 L337.63,99.12 L338.34,100.29 L339.04,101.47 L339.72,102.66 L340.38,103.86 L341.03,105.06 L341.66,106.28 L342.28,107.50 L342.88,108.73 L343.46,109.97 L344.03,111.22 L344.58,112.47 L345.12,113.74 L345.64,115.01 L346.14,116.28 L346.63,117.57 L347.10,118.86 L347.56,120.15 L348.00,121.45 L348.43,122.76 L348.84,124.07 L349.23,125.39 L349.61,126.71 L349.97,128.04 L350.32,129.37 L350.66,130.71 L350.98,132.05 L351.28,133.40 L351.57,134.74 L351.84,136.10 L352.10,137.45 L352.35,138.81 L352.57,140.17 L352.79,141.53 L352.99,142.90 L353.17,144.26 L353.34,145.63 L353.50,147.00 L353.77,146.35 L354.04,145.65 L354.31,144.92 L354.61,144.16 L354.94,143.40 L355.30,142.64 L355.71,141.90 L356.18,141.20 L356.69,140.56 L357.24,140.02 L357.81,139.60 L358.39,139.35 L358.97,139.29 L359.53,139.44 L360.08,139.78 L360.61,140.26 L361.11,140.84 L361.59,141.49 L362.04,142.18 L362.46,142.89 L362.84,143.63 L363.18,144.37 L363.49,145.12 L363.78,145.86 L364.03,146.61 L364.26,147.36 L364.47,148.11 L364.67,148.86 L364.85,149.61 L365.03,150.37 L365.20,151.13 L365.36,151.89 L365.51,152.65 L365.65,153.41 L365.79,154.18 L365.92,154.94 L366.04,155.71 L366.16,156.48 L366.27,157.25 L366.37,158.02 L366.47,158.80 L366.56,159.57 L366.65,160.35 L366.73,161.12 L366.81,161.90 L366.88,162.68 L366.95,163.46 L367.01,164.24 L367.07,165.02 L367.13,165.80 L367.18,166.58 L367.23,167.36 L367.27,168.15 L367.32,168.93 L367.36,169.71 L367.39,170.50 L367.43,171.28 L367.46,172.07 L367.49,172.85 L367.52,173.63 L367.55,174.42 L367.58,175.20 L367.60,175.98 L367.63,176.77 L367.65,177.55 L367.67,178.33 L367.69,179.12 L367.71,179.90 L367.73,180.68 L367.75,181.47 L367.77,182.25 L367.78,183.03 L367.80,183.81 L367.81,184.60 L367.83,185.38 L367.84,186.16 L367.85,186.94 L367.87,187.72 L367.88,188.51 L367.89,189.29 L367.90,190.07 L367.91,190.85 L367.92,191.63 L367.93,192.42 L367.93,193.20 L367.94,193.98 L367.95,194.76 L367.96,195.54 L367.96,196.33 L367.97,197.11 L367.98,197.89 L367.98,198.67 L367.99,199.45 L367.99,200.23 L368.00,201.02 L368.00,201.80 L368.01,202.58 L368.02,203.36 L368.02,204.14 L368.03,204.93 L368.03,205.71 L368.04,206.49 L368.05,207.27 L368.05,208.05 L368.06,208.84 L368.07,209.62 L368.07,210.40 L368.08,211.18 L368.09,211.97 L368.10,212.75 L368.11,213.53 L368.12,214.32 L368.13,215.10 L368.14,215.88 L368.15,216.67 L368.16,217.45 L368.17,218.23 L368.19,219.02 L368.20,219.80"/>
<path class="c" stroke="#800080" d="M29.40,219.80 L29.40,219.08 L29.40,218.36 L29.40,217.64 L29.40,216.92 L29.40,216.20 L29.40,215.48 L29.40,214.76 L29.40,214.04 L29.40,213.32 L29.40,212.60 L29.40,211.88 L29.40,211.16 L29.40,210.43 L29.40,209.71 L29.40,208.99 L29.40,208.27 L29.40,207.55 L29.41,206.83 L29.41,206.11 L29.41,205.38 L29.41,204.66 L29.41,203.94 L29.42,203.22 L29.42,202.50 L29.42,201.78 L29.42,201.05 L29.43,200.33 L29.43,199.61 L29.44,198.89 L29.44,198.17 L29.44,197.44 L29.45,196.72 L29.45,196.00 L29.46,195.28 L29.46,194.56 L29.47,193.84 L29.47,193.11 L29.48,192.39 L29.49,191.67 L29.49,190.95 L29.50,190.23 L29.51,189.51 L29.51,188.79 L29.52,188.06 L29.53,187.34 L29.54,186.62 L29.54,185.90 L29.55,185.18 L29.56,184.46 L29.57,183.74 L29.58,183.02 L29.59,182.30 L29.60,181.58 L29.61,180.86 L29.62,180.14 L29.63,179.42 L29.64,178.70 L29.66,177.98 L29.67,177.26 L29.68,176.54 L29.70,175.82 L29.71,175.10 L29.73,174.39 L29.75,173.67 L29.76,172.95 L29.78,172.23 L29.81,171.51 L29.83,170.79 L29.85,170.07 L29.88,169.35 L29.91,168.63 L29.94,167.91 L29.97,167.19 L30.00,166.47 L30.04,165.76 L30.07,165.04 L30.11,164.31 L30.16,163.59 L30.20,162.87 L30.25,162.15 L30.30,161.43 L30.35,160.71 L30.41,159.99 L30.47,159.27 L30.53,158.54 L30.60,157.82 L30.67,157.10 L30.75,156.38 L30.83,155.65 L30.92,154.93 L31.03,154.22 L31.14,153.50 L31.26,152.79 L31.40,152.07 L31.55,151.36 L31.72,150.66 L31.91,149.96 L32.11,149.26 L32.33,148.57 L32.57,147.88 L32.83,147.19 L33.12,146.52 L33.43,145.84 L33.76,145.18 L34.12,144.54 L34.50,143.95 L34.90,143.44 L35.33,143.04 L35.77,142.77 L36.23,142.67 L36.70,142.76 L37.19,143.07 L37.69,143.62 L38.21,144.45 L38.70,145.47 L39.13,146.52 L39.44,147.42 L39.58,148.00 L39.50,148.10 L39.61,146.56 L39.73,145.02 L39.87,143.48 L40.02,141.93 L40.19,140.39 L40.37,138.85 L40.57,137.30 L40.79,135.76 L41.02,134.22 L41.27,132.68 L41.54,131.15 L41.82,129.61 L42.12,128.08 L42.43,126.55 L42.77,125.02 L43.11,123.50 L43.48,121.98 L43.86,120.46 L44.26,118.95 L44.67,117.45 L45.11,115.95 L45.56,114.45 L46.02,112.96 L46.51,111.48 L47.01,110.00 L47.53,108.53 L48.07,107.07 L48.62,105.62 L49.19,104.17 L49.78,102.73 L50.39,101.30 L51.02,99.88 L51.66,98.47 L52.32,97.06 L53.01,95.67 L53.70,94.29 L54.42,92.92 L55.16,91.56 L55.91,90.21 L56.68,88.87 L57.47,87.54 L58.28,86.23 L59.11,84.92 L59.96,83.63 L60.82,82.36 L61.70,81.09 L62.60,79.84 L63.51,78.60 L64.44,77.37 L65.39,76.15 L66.35,74.95 L67.33,73.76 L68.33,72.58 L69.34,71.41 L70.36,70.26 L71.40,69.12 L72.45,68.00 L73.52,66.89 L74.60,65.79 L75.70,64.70 L76.80,63.63 L77.92,62.57 L79.06,61.52 L80.20,60.49 L81.36,59.47 L82.53,58.47 L83.72,57.48 L84.91,56.50 L86.11,55.54 L87.33,54.59 L88.56,53.65 L89.79,52.73 L91.04,51.83 L92.30,50.94 L93.56,50.06 L94.84,49.20 L96.13,48.35 L97.42,47.52 L98.72,46.70 L100.03,45.89 L101.35,45.10 L102.68,44.33 L104.02,43.57 L105.36,42.82 L106.71,42.09 L108.07,41.37 L109.44,40.66 L110.81,39.97 L112.19,39.29 L113.58,38.63 L114.98,37.98 L116.38,37.34 L117.79,36.72 L119.20,36.11 L120.63,35.51 L122.06,34.93 L123.49,34.36 L124.93,33.80 L126.38,33.25 L127.83,32.72 L129.29,32.20 L130.75,31.70 L132.22,31.20 L133.69,30.72 L135.17,30.25 L136.65,29.79 L138.14,29.35 L139.63,28.92 L141.13,28.50 L142.63,28.09 L144.13,27.69 L145.64,27.31 L147.16,26.94 L148.67,26.58 L150.19,26.23 L151.72,25.89 L153.24,25.56 L154.77,25.25 L156.31,24.94 L157.84,24.65 L159.38,24.37 L160.92,24.10 L162.46,23.84 L164.01,23.59 L165.56,23.35 L167.10,23.13 L168.66,22.91 L170.21,22.71 L171.76,22.51 L173.32,22.33 L174.88,22.15 L176.43,21.99 L177.99,21.83 L179.55,21.69 L181.11,21.56 L182.67,21.43 L184.23,21.32 L185.79,21.21 L187.36,21.12 L188.92,21.03 L190.48,20.96 L192.04,20.89 L193.60,20.83 L195.16,20.79 L196.72,20.75 L198.28,20.72 L199.83,20.70 L201.39,20.69 L202.94,20.68 L204.49,20.69 L206.05,20.70 L207.60,20.73 L209.14,20.76 L210.69,20.80 L212.23,20.85 L213.78,20.91 L215.32,20.98 L216.86,21.06 L218.40,21.15 L219.94,21.24 L221.47,21.35 L223.01,21.46 L224.54,21.59 L226.07,21.72 L227.60,21.86 L229.13,22.02 L230.66,22.18 L232.19,22.35 L233.71,22.53 L235.24,22.73 L236.76,22.93 L238.28,23.14 L239.80,23.36 L241.32,23.59 L242.84,23.83 L244.35,24.09 L245.87,24.35 L247.38,24.62 L248.90,24.90 L250.41,25.19 L251.92,25.50 L253.43,25.81 L254.94,26.14 L256.45,26.47 L257.95,26.82 L259.46,27.17 L260.96,27.54 L262.47,27.92 L263.97,28.30 L265.47,28.70 L266.97,29.11 L268.47,29.54 L269.96,29.97 L271.45,30.41 L272.94,30.87 L274.43,31.34 L275.92,31.82 L277.40,32.31 L278.87,32.82 L280.35,33.33 L281.81,33.86 L283.28,34.40 L284.73,34.96 L286.19,35.53 L287.63,36.11 L289.08,36.70 L290.51,37.31 L291.94,37.93 L293.36,38.57 L294.78,39.22 L296.18,39.88 L297.58,40.56 L298.97,41.25 L300.36,41.96 L301.73,42.68 L303.10,43.41 L304.46,44.16 L305.80,44.93 L307.14,45.71 L308.47,46.50 L309.79,47.32 L311.10,48.14 L312.39,48.98 L313.68,49.84 L314.95,50.72 L316.21,51.61 L317.46,52.51 L318.70,53.44 L319.93,54.37 L321.14,55.33 L322.35,56.29 L323.53,57.28 L324.71,58.28 L325.87,59.29 L327.02,60.32 L328.16,61.36 L329.28,62.42 L330.39,63.49 L331.49,64.57 L332.57,65.67 L333.64,66.78 L334.69,67.91 L335.73,69.04 L336.76,70.20 L337.76,71.36 L338.76,72.54 L339.74,73.73 L340.70,74.93 L341.65,76.15 L342.58,77.38 L343.50,78.62 L344.40,79.87 L345.28,81.14 L346.15,82.41 L347.00,83.70 L347.84,85.00 L348.66,86.31 L349.46,87.63 L350.24,88.96 L351.01,90.30 L351.75,91.66 L352.48,93.02 L353.20,94.39 L353.89,95.78 L354.57,97.17 L355.23,98.57 L355.87,99.98 L356.50,101.40 L357.11,102.83 L357.70,104.27 L358.27,105.71 L358.83,107.16 L359.36,108.62 L359.89,110.09 L360.39,111.56 L360.88,113.04 L361.35,114.52 L361.80,116.01 L362.24,117.51 L362.66,119.01 L363.06,120.52 L363.45,122.03 L363.82,123.54 L364.17,125.06 L364.51,126.58 L364.83,128.11 L365.13,129.63 L365.42,131.17 L365.69,132.70 L365.94,134.23 L366.18,135.77 L366.40,137.31 L366.60,138.85 L366.79,140.39 L366.97,141.93 L367.12,143.47 L367.27,145.02 L367.39,146.56 L367.50,148.10 L367.42,148.00 L367.56,147.42 L367.87,146.52 L368.30,145.47 L368.79,144.45 L369.31,143.62 L369.81,143.07 L370.30,142.76 L370.77,142.67 L371.23,142.77 L371.67,143.04 L372.10,143.44 L372.50,143.95 L372.88,144.54 L373.24,145.18 L373.57,145.84 L373.88,146.52 L374.17,147.19 L374.43,147.88 L374.67,148.57 L374.89,149.26 L375.09,149.96 L375.28,150.66 L375.45,151.36 L375.60,152.07 L375.74,152.79 L375.86,153.50 L375.97,154.22 L376.08,154.93 L376.17,155.65 L376.25,156.38 L376.33,157.10 L376.40,157.82 L376.47,158.54 L376.53,159.27 L376.59,159.99 L376.65,160.71 L376.70,161.43 L376.75,162.15 L376.80,162.87 L376.84,163.59 L376.89,164.31 L376.93,165.04 L376.96,165.76 L377.00,166.47 L377.03,167.19 L377.06,167.91 L377.09,168.63 L377.12,169.35 L377.15,170.07 L377.17,170.79 L377.19,171.51 L377.22,172.23 L377.24,172.95 L377.25,173.67 L377.27,174.39 L377.29,175.10 L377.30,175.82 L377.32,176.54 L377.33,177.26 L377.34,177.98 L377.36,178.70 L377.37,179.42 L377.38,180.14 L377.39,180.86 L377.40,181.58 L377.41,182.30 L377.42,183.02 L377.43,183.74 L377.44,184.46 L377.45,185.18 L377.46,185.90 L377.46,186.62 L377.47,187.34 L377.48,188.06 L377.49,188.79 L377.49,189.51 L377.50,190.23 L377.51,190.95 L377.51,191.67 L377.52,192.39 L377.53,193.11 L377.53,193.84 L377.54,194.56 L377.54,195.28 L377.55,196.00 L377.55,196.72 L377.56,197.44 L377.56,198.17 L377.56,198.89 L377.57,199.61 L377.57,200.33 L377.58,201.05 L377.58,201.78 L377.58,202.50 L377.58,203.22 L377.59,203.94 L377.59,204.66 L377.59,205.38 L377.59,206.11 L377.59,206.83 L377.60,207.55 L377.60,208.27 L377.60,208.99 L377.60,209.71 L377.60,210.43 L377.60,211.16 L377.60,211.88 L377.60,212.60 L377.60,213.32 L377.60,214.04 L377.60,214.76 L377.60,215.48 L377.60,216.20 L377.60,216.92 L377.60,217.64 L377.60,218.36 L377.60,219.08 L377.60,219.80"/>
<path d="M386.00,9.45 H22.05 V234.30 H386.00" fill="none" stroke="#ababab" stroke-width="1"/>
<line x1="385.50" y1="9.45" x2="385.50" y2="234.30" stroke="#c2c2c2" stroke-width="1"/>
<path d="M27.06,234.30 v-1.80 M27.06,9.45 v1.80 M38.10,234.30 v-2.70 M38.10,9.45 v2.70 M49.14,234.30 v-1.80 M49.14,9.45 v1.80 M60.18,234.30 v-1.80 M60.18,9.45 v1.80 M71.22,234.30 v-1.80 M71.22,9.45 v1.80 M82.26,234.30 v-1.80 M82.26,9.45 v1.80 M93.30,234.30 v-2.70 M93.30,9.45 v2.70 M104.34,234.30 v-1.80 M104.34,9.45 v1.80 M115.38,234.30 v-1.80 M115.38,9.45 v1.80 M126.42,234.30 v-1.80 M126.42,9.45 v1.80 M137.46,234.30 v-1.80 M137.46,9.45 v1.80 M148.50,234.30 v-2.70 M148.50,9.45 v2.70 M159.54,234.30 v-1.80 M159.54,9.45 v1.80 M170.58,234.30 v-1.80 M170.58,9.45 v1.80 M181.62,234.30 v-1.80 M181.62,9.45 v1.80 M192.66,234.30 v-1.80 M192.66,9.45 v1.80 M203.70,234.30 v-2.70 M203.70,9.45 v2.70 M214.74,234.30 v-1.80 M214.74,9.45 v1.80 M225.78,234.30 v-1.80 M225.78,9.45 v1.80 M236.82,234.30 v-1.80 M236.82,9.45 v1.80 M247.86,234.30 v-1.80 M247.86,9.45 v1.80 M258.90,234.30 v-2.70 M258.90,9.45 v2.70 M269.94,234.30 v-1.80 M269.94,9.45 v1.80 M280.98,234.30 v-1.80 M280.98,9.45 v1.80 M292.02,234.30 v-1.80 M292.02,9.45 v1.80 M303.06,234.30 v-1.80 M303.06,9.45 v1.80 M314.10,234.30 v-2.70 M314.10,9.45 v2.70 M325.14,234.30 v-1.80 M325.14,9.45 v1.80 M336.18,234.30 v-1.80 M336.18,9.45 v1.80 M347.22,234.30 v-1.80 M347.22,9.45 v1.80 M358.26,234.30 v-1.80 M358.26,9.45 v1.80 M369.30,234.30 v-2.70 M369.30,9.45 v2.70 M380.34,234.30 v-1.80 M380.34,9.45 v1.80 M22.05,228.94 h1.80 M386.00,228.94 h-2.70 M22.05,223.00 h2.70 M386.00,223.00 h-3.60 M22.05,217.06 h1.80 M386.00,217.06 h-2.70 M22.05,211.13 h1.80 M386.00,211.13 h-2.70 M22.05,205.19 h1.80 M386.00,205.19 h-2.70 M22.05,199.26 h1.80 M386.00,199.26 h-2.70 M22.05,193.32 h2.70 M386.00,193.32 h-3.60 M22.05,187.38 h1.80 M386.00,187.38 h-2.70 M22.05,181.45 h1.80 M386.00,181.45 h-2.70 M22.05,175.51 h1.80 M386.00,175.51 h-2.70 M22.05,169.58 h1.80 M386.00,169.58 h-2.70 M22.05,163.64 h2.70 M386.00,163.64 h-3.60 M22.05,157.70 h1.80 M386.00,157.70 h-2.70 M22.05,151.77 h1.80 M386.00,151.77 h-2.70 M22.05,145.83 h1.80 M386.00,145.83 h-2.70 M22.05,139.90 h1.80 M386.00,139.90 h-2.70 M22.05,133.96 h2.70 M386.00,133.96 h-3.60 M22.05,128.02 h1.80 M386.00,128.02 h-2.70 M22.05,122.09 h1.80 M386.00,122.09 h-2.70 M22.05,116.15 h1.80 M386.00,116.15 h-2.70 M22.05,110.22 h1.80 M386.00,110.22 h-2.70 M22.05,104.28 h2.70 M386.00,104.28 h-3.60 M22.05,98.34 h1.80 M386.00,98.34 h-2.70 M22.05,92.41 h1.80 M386.00,92.41 h-2.70 M22.05,86.47 h1.80 M386.00,86.47 h-2.70 M22.05,80.54 h1.80 M386.00,80.54 h-2.70 M22.05,74.60 h2.70 M386.00,74.60 h-3.60 M22.05,68.66 h1.80 M386.00,68.66 h-2.70 M22.05,62.73 h1.80 M386.00,62.73 h-2.70 M22.05,56.79 h1.80 M386.00,56.79 h-2.70 M22.05,50.86 h1.80 M386.00,50.86 h-2.70 M22.05,44.92 h2.70 M386.00,44.92 h-3.60 M22.05,38.98 h1.80 M386.00,38.98 h-2.70 M22.05,33.05 h1.80 M386.00,33.05 h-2.70 M22.05,27.11 h1.80 M386.00,27.11 h-2.70 M22.05,21.18 h1.80 M386.00,21.18 h-2.70 M22.05,15.24 h2.70 M386.00,15.24 h-3.60" fill="none" stroke="#a4a4a4" stroke-width="0.8"/>
<g class="t">
<text transform="translate(37.50,242.20) rotate(0.05) scale(0.0500,0.0500)" font-size="122.0" font-style="normal" text-anchor="middle">−<tspan dx="14">1.5</tspan></text>
<text transform="translate(92.70,242.20) rotate(0.05) scale(0.0500,0.0500)" font-size="122.0" font-style="normal" text-anchor="middle">−<tspan dx="14">1.0</tspan></text>
<text transform="translate(147.90,242.20) rotate(0.05) scale(0.0500,0.0500)" font-size="122.0" font-style="normal" text-anchor="middle">−<tspan dx="14">0.5</tspan></text>
<text transform="translate(203.10,242.20) rotate(0.05) scale(0.0500,0.0500)" font-size="122.0" font-style="normal" text-anchor="middle">0.0</text>
<text transform="translate(258.30,242.20) rotate(0.05) scale(0.0500,0.0500)" font-size="122.0" font-style="normal" text-anchor="middle">0.5</text>
<text transform="translate(313.50,242.20) rotate(0.05) scale(0.0500,0.0500)" font-size="122.0" font-style="normal" text-anchor="middle">1.0</text>
<text transform="translate(368.70,242.20) rotate(0.05) scale(0.0500,0.0500)" font-size="122.0" font-style="normal" text-anchor="middle">1.5</text>
<text transform="translate(20.00,225.00) rotate(0.05) scale(0.0500,0.0500)" font-size="122.0" font-style="normal" text-anchor="end">0.0</text>
<text transform="translate(20.00,195.32) rotate(0.05) scale(0.0500,0.0500)" font-size="122.0" font-style="normal" text-anchor="end">0.5</text>
<text transform="translate(20.00,165.64) rotate(0.05) scale(0.0500,0.0500)" font-size="122.0" font-style="normal" text-anchor="end">1.0</text>
<text transform="translate(20.00,135.96) rotate(0.05) scale(0.0500,0.0500)" font-size="122.0" font-style="normal" text-anchor="end">1.5</text>
<text transform="translate(20.00,106.28) rotate(0.05) scale(0.0500,0.0500)" font-size="122.0" font-style="normal" text-anchor="end">2.0</text>
<text transform="translate(20.00,76.60) rotate(0.05) scale(0.0500,0.0500)" font-size="122.0" font-style="normal" text-anchor="end">2.5</text>
<text transform="translate(20.00,46.92) rotate(0.05) scale(0.0500,0.0500)" font-size="122.0" font-style="normal" text-anchor="end">3.0</text>
<text transform="translate(20.00,17.24) rotate(0.05) scale(0.0500,0.0500)" font-size="122.0" font-style="normal" text-anchor="end">3.5</text>
<text transform="translate(204.20,253.60) rotate(0.05) scale(0.0500,0.0500)" font-size="124.0" font-style="italic" text-anchor="middle">x</text>
<text transform="translate(5.90,121.60) rotate(-89.95) scale(0.0500,0.0500)" font-size="124.0" font-style="italic" text-anchor="middle">z</text>
<text transform="translate(181.60,6.80) rotate(0.05) scale(0.0500,0.0500)" font-size="132.0" font-style="italic" text-anchor="start">λ</text>
<text transform="translate(185.50,6.80) rotate(0.05) scale(0.0500,0.0500)" font-size="128.0" font-style="normal" text-anchor="start">=</text>
<text transform="translate(190.00,6.80) rotate(0.05) scale(0.0500,0.0500)" font-size="136.0" font-style="normal" text-anchor="start">−</text>
<text transform="translate(194.20,6.80) rotate(0.05) scale(0.0500,0.0500)" font-size="131.0" font-style="normal" text-anchor="start">0.05</text>
<text transform="translate(208.40,6.80) rotate(0.05) scale(0.0500,0.0500)" font-size="130.0" font-style="normal" text-anchor="start">,</text>
<text transform="translate(212.20,6.80) rotate(0.05) scale(0.0500,0.0500)" font-size="132.0" font-style="italic" text-anchor="start">t</text>
<text transform="translate(214.00,8.70) rotate(0.05) scale(0.0500,0.0500)" font-size="94.0" font-style="italic" text-anchor="start">b</text>
<text transform="translate(217.80,6.80) rotate(0.05) scale(0.0500,0.0500)" font-size="124.0" font-style="normal" text-anchor="start">=</text>
<text transform="translate(221.20,6.80) rotate(0.05) scale(0.0500,0.0500)" font-size="132.0" font-style="normal" text-anchor="start">2</text>
</g>
</svg>
</body></html>
